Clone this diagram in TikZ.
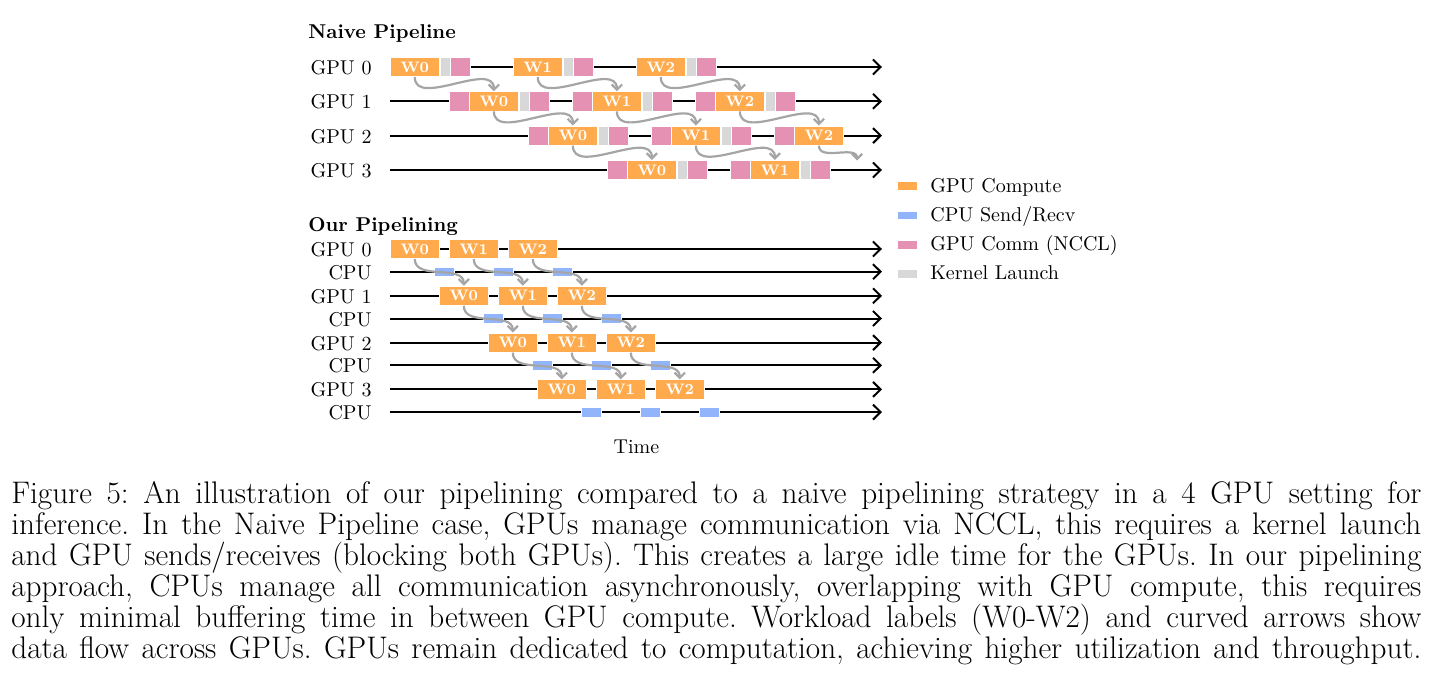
\documentclass[tikz,border=0pt]{standalone}
\usetikzlibrary{arrows.meta}
\definecolor{cOrange}{RGB}{255,170,77}
\definecolor{cBlue}{RGB}{146,180,250}
\definecolor{cPink}{RGB}{228,145,180}
\definecolor{cGray}{RGB}{216,216,216}
\definecolor{cArrow}{RGB}{165,165,165}
\tikzset{
  blk/.style={draw=white, line width=0.3pt, minimum height=9.75pt, inner sep=0pt, anchor=west},
  comp/.style={blk, fill=cOrange, minimum width=24.5pt, text=white, font=\fontsize{7.6}{8}\selectfont\bfseries},
  kern/.style={blk, fill=cGray, minimum width=5pt},
  nccl/.style={blk, fill=cPink, minimum width=9.75pt},
  cpubox/.style={blk, fill=cBlue, minimum width=9.75pt, minimum height=4.75pt},
  tline/.style={line width=1pt, -{Straight Barb[length=3.8pt,width=7.5pt]}},
  flow/.style={draw=cArrow, line width=1.1pt, -{Straight Barb[length=2.6pt,width=5.2pt]}},
  rowlbl/.style={anchor=base east, inner sep=0pt},
  head/.style={anchor=base west, inner sep=0pt, font=\bfseries},
  lgsq/.style={draw=white, line width=0.3pt, minimum width=10pt, minimum height=4.25pt, inner sep=0pt},
  lgtxt/.style={anchor=base west, inner sep=0pt},
  capline/.style={anchor=base west, inner sep=0pt, font=\fontsize{15.6}{16}\selectfont\frenchspacing},
}
\begin{document}
\begin{tikzpicture}[x=0.5pt,y=-0.5pt]
\useasboundingbox (0,0) rectangle (1436,690);

% ---------- Naive pipeline ----------
\node[head] (h1) at (308,38.5) {Naive Pipeline};
\foreach \k/\y in {0/67,1/101.3,2/135.6,3/170}{
  \coordinate (ns\k) at (390,\y);
  \coordinate (ne\k) at (882,\y);
  \draw[tline] (ns\k) -- (ne\k);
  \node[rowlbl] (nl\k) at (372,{\y+7.5}) {GPU \k};
}
% GPU 0
\foreach \i in {0,1,2}{
  \pgfmathsetmacro\xa{390+123*\i}
  \node[comp] (nc0\i) at (\xa,67) {W\i};
  \node[kern] (nk0\i) at (nc0\i.east) {};
  \node[nccl] (np0\i) at (nk0\i.east) {};
}
% GPU 1
\foreach \i in {0,1,2}{
  \pgfmathsetmacro\xa{449+123*\i}
  \node[nccl] (nr1\i) at (\xa,101.3) {};
  \node[comp] (nc1\i) at (nr1\i.east) {W\i};
  \node[kern] (nk1\i) at (nc1\i.east) {};
  \node[nccl] (np1\i) at (nk1\i.east) {};
}
% GPU 2
\foreach \i in {0,1}{
  \pgfmathsetmacro\xa{528+123*\i}
  \node[nccl] (nr2\i) at (\xa,135.6) {};
  \node[comp] (nc2\i) at (nr2\i.east) {W\i};
  \node[kern] (nk2\i) at (nc2\i.east) {};
  \node[nccl] (np2\i) at (nk2\i.east) {};
}
\node[nccl] (nr22) at (774,135.6) {};
\node[comp] (nc22) at (nr22.east) {W2};
% GPU 3
\foreach \i in {0,1}{
  \pgfmathsetmacro\xa{607+123*\i}
  \node[nccl] (nr3\i) at (\xa,170) {};
  \node[comp] (nc3\i) at (nr3\i.east) {W\i};
  \node[kern] (nk3\i) at (nc3\i.east) {};
  \node[nccl] (np3\i) at (nk3\i.east) {};
}
\coordinate (dang) at (857,160.5);
% flows
\foreach \k/\n in {0/1,1/2}{
  \foreach \i in {0,1,2}{
    \draw[flow] (nc\k\i.south) to[out=-90,in=90] (nc\n\i.north);
  }
}
\foreach \i in {0,1}{
  \draw[flow] (nc2\i.south) to[out=-90,in=90] (nc3\i.north);
}
\draw[flow] (nc22.south) to[out=-90,in=90] (dang);

% ---------- Our pipelining ----------
\node[head] (h2) at (308,231) {Our Pipelining};
\foreach \k/\y in {0/249,1/295.8,2/342.6,3/389.4}{
  \coordinate (gs\k) at (390,\y);
  \coordinate (ge\k) at (882,\y);
  \coordinate (cs\k) at (390,{\y+22.7});
  \coordinate (ce\k) at (882,{\y+22.7});
  \draw[tline] (gs\k) -- (ge\k);
  \draw[tline] (cs\k) -- (ce\k);
  \node[rowlbl] (gl\k) at (372,{\y+7.5}) {GPU \k};
  \node[rowlbl] (cl\k) at (372,{\y+22.7+7.5}) {CPU};
  \foreach \i in {0,1,2}{
    \pgfmathsetmacro\xg{390+49*\k+59*\i}
    \pgfmathsetmacro\xc{434+49*\k+59*\i}
    \node[comp] (og\k\i) at (\xg,\y) {W\i};
    \node[cpubox] (oc\k\i) at (\xc,{\y+22.7}) {};
  }
}
\foreach \k/\n in {0/1,1/2,2/3}{
  \foreach \i in {0,1,2}{
    \draw[flow] (og\k\i.south) to[out=-90,in=90] (og\n\i.north);
  }
}
\node[anchor=base, inner sep=0pt] (time) at (636.5,453) {Time};

% ---------- Legend ----------
\node[lgsq, fill=cOrange] (lg1) at (907.3,186) {};
\node[lgsq, fill=cBlue]   (lg2) at (907.3,215.3) {};
\node[lgsq, fill=cPink]   (lg3) at (907.3,244.6) {};
\node[lgsq, fill=cGray]   (lg4) at (907.3,273.9) {};
\node[lgtxt] (lt1) at (930,192) {GPU Compute};
\node[lgtxt] (lt2) at (930,221.3) {CPU Send/Recv};
\node[lgtxt] (lt3) at (930,250.6) {GPU Comm (NCCL)};
\node[lgtxt] (lt4) at (930,279.9) {Kernel Launch};

% ---------- Caption ----------
\node[capline] (c1) at (11,503) {\makebox[705pt][s]{Figure 5: An illustration of our pipelining compared to a naive pipelining strategy in a 4 GPU setting for}};
\node[capline] (c2) at (11,534) {\makebox[705pt][s]{inference. In the Naive Pipeline case, GPUs manage communication via NCCL, this requires a kernel launch}};
\node[capline] (c3) at (11,565) {\makebox[705pt][s]{and GPU sends/receives (blocking both GPUs). This creates a large idle time for the GPUs. In our pipelining}};
\node[capline] (c4) at (11,596) {\makebox[705pt][s]{approach, CPUs manage all communication asynchronously, overlapping with GPU compute, this requires}};
\node[capline] (c5) at (11,627) {\makebox[705pt][s]{only minimal buffering time in between GPU compute. Workload labels (W0-W2) and curved arrows show}};
\node[capline] (c6) at (11,658) {\makebox[705pt][s]{data flow across GPUs. GPUs remain dedicated to computation, achieving higher utilization and throughput.}};
\end{tikzpicture}
\end{document}
